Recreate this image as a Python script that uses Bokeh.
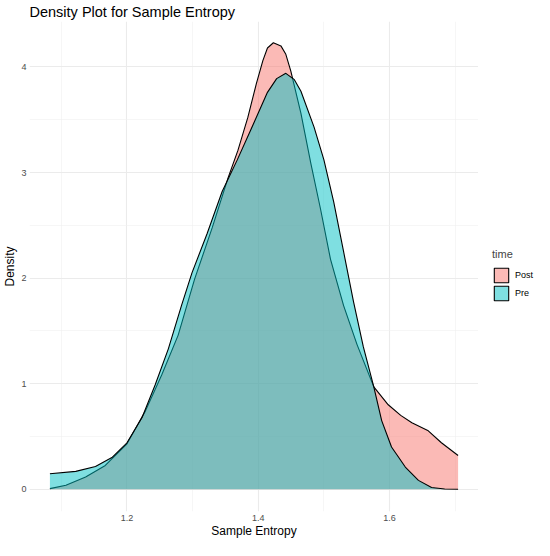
from bokeh.plotting import figure
from bokeh.layouts import row
from bokeh.models import Range1d, FixedTicker, Legend, LegendItem
from bokeh.embed import file_html
from bokeh.resources import INLINE

# Density estimates
post_x = [1.0826, 1.107, 1.137, 1.167, 1.200, 1.228, 1.253, 1.278, 1.303, 1.330,
          1.354, 1.369, 1.384, 1.397, 1.407, 1.414, 1.423, 1.4345, 1.442, 1.4496,
          1.465, 1.480, 1.495, 1.510, 1.530, 1.5505, 1.576, 1.598, 1.617, 1.634,
          1.659, 1.679, 1.7044]
post_y = [0.006, 0.037, 0.115, 0.225, 0.43, 0.74, 1.085, 1.46, 1.99, 2.48,
          2.95, 3.21, 3.52, 3.84, 4.06, 4.18, 4.23, 4.20, 4.12, 3.96,
          3.56, 3.09, 2.65, 2.18, 1.74, 1.37, 0.97, 0.80, 0.70, 0.63,
          0.553, 0.44, 0.32]

pre_x = [1.0826, 1.122, 1.152, 1.177, 1.200, 1.223, 1.243, 1.263, 1.283, 1.299,
         1.322, 1.345, 1.368, 1.389, 1.414, 1.428, 1.442, 1.455, 1.465, 1.485,
         1.500, 1.515, 1.530, 1.545, 1.560, 1.576, 1.588, 1.603, 1.624, 1.644,
         1.664, 1.684, 1.7044]
pre_y = [0.147, 0.169, 0.216, 0.30, 0.44, 0.68, 0.99, 1.33, 1.74, 2.05,
         2.42, 2.82, 3.12, 3.41, 3.76, 3.89, 3.94, 3.88, 3.77, 3.43,
         3.12, 2.72, 2.25, 1.78, 1.35, 0.97, 0.65, 0.40, 0.21, 0.084,
         0.016, 0.002, 0.0]

groups = ["Post", "Pre"]
group_colors = ["#F8766D", "#00BFC4"]

x_ticks = [1.2, 1.4, 1.6]
x_minor = [1.1, 1.3, 1.5, 1.7]
y_ticks = [0, 1, 2, 3, 4]
y_minor = [0.5, 1.5, 2.5, 3.5]

FONT = "Liberation Sans"

p = figure(width=478, height=540, output_backend="svg", toolbar_location=None,
           x_range=Range1d(1.0515, 1.7355), y_range=Range1d(-0.211, 4.431),
           title="Density Plot for Sample Entropy",
           x_axis_label="Sample Entropy", y_axis_label="Density")

p.min_border_left = 20
p.min_border_right = 0
p.min_border_top = 18
p.min_border_bottom = 20
p.outline_line_color = None
p.background_fill_color = "white"
p.border_fill_color = "white"

p.title.text_font = FONT
p.title.text_font_size = "14.5px"
p.title.text_font_style = "normal"
p.title.text_color = "#000000"
p.title.standoff = 3
p.title.offset = 0

p.xaxis.ticker = FixedTicker(ticks=x_ticks, minor_ticks=x_minor)
p.yaxis.ticker = FixedTicker(ticks=y_ticks, minor_ticks=y_minor)
for ax in (p.xaxis, p.yaxis):
    ax.axis_line_color = None
    ax.major_tick_line_color = None
    ax.minor_tick_line_color = None
    ax.major_tick_in = 0
    ax.major_tick_out = 0
    ax.minor_tick_in = 0
    ax.minor_tick_out = 0
    ax.major_label_text_font = FONT
    ax.major_label_text_font_size = "9px"
    ax.major_label_text_color = "#4D4D4D"
    ax.axis_label_text_font = FONT
    ax.axis_label_text_font_size = "12px"
    ax.axis_label_text_font_style = "normal"
    ax.axis_label_text_color = "#000000"
p.xaxis.major_label_standoff = 3
p.xaxis.axis_label_standoff = 0
p.yaxis.major_label_standoff = 3
p.yaxis.axis_label_standoff = 1

for g in (p.xgrid, p.ygrid):
    g.grid_line_color = "#EBEBEB"
    g.grid_line_width = 1.1
    g.minor_grid_line_color = "#F0F0F0"
    g.minor_grid_line_width = 0.6

series = [(post_x, post_y), (pre_x, pre_y)]
for (xs, ys), col in zip(series, group_colors):
    p.varea(x=xs, y1=0, y2=ys, fill_color=col, fill_alpha=0.5)
    p.line(xs, ys, line_color="black", line_width=1.1)

# Legend panel (separate figure to the right of the plot); the key
# renderers are zero-size placeholders outside the visible range.
leg = figure(width=56, height=540, output_backend="svg", toolbar_location=None,
             x_axis_type=None, y_axis_type=None, min_border=0,
             x_range=Range1d(1, 2), y_range=Range1d(1, 2))
leg.outline_line_color = None
leg.xgrid.visible = False
leg.ygrid.visible = False
leg_renderers = []
for col in group_colors:
    r = leg.quad(left=[0], right=[0], top=[0], bottom=[0], fill_color=col,
                 fill_alpha=0.5, line_color="black", line_width=1.1)
    leg_renderers.append(r)

legend = Legend(items=[LegendItem(label=g, renderers=[r]) for g, r in zip(groups, leg_renderers)],
                title="time")
legend.title_text_font = FONT
legend.title_text_font_size = "11px"
legend.title_text_font_style = "normal"
legend.title_standoff = 6
legend.label_text_font = FONT
legend.label_text_font_size = "9px"
legend.label_text_color = "#000000"
legend.glyph_width = 18
legend.glyph_height = 18
legend.label_height = 18
legend.label_standoff = 5
legend.spacing = 0
legend.padding = 0
legend.margin = 0
legend.border_line_color = None
legend.background_fill_alpha = 0
legend.location = (14, 209)
leg.add_layout(legend, "center")

layout = row(p, leg)
open("out.html", "w").write(file_html(layout, INLINE))
